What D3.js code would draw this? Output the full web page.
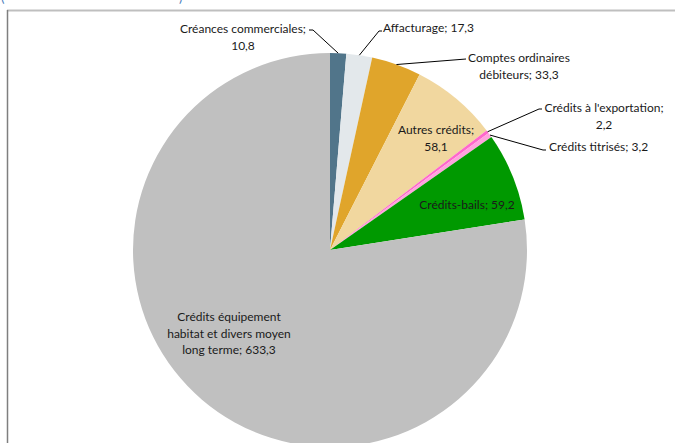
<!DOCTYPE html>
<html>
<head>
<meta charset="utf-8">
<script src="https://d3js.org/d3.v7.min.js"></script>
<style>
  html, body { margin: 0; padding: 0; background: #fff; }
  svg { display: block; }
  text { font-family: "Lato", "Liberation Sans", sans-serif; font-size: 12px; fill: #1a1a1a; }
</style>
</head>
<body>
<div id="chart"></div>
<script>
"use strict";
// Répartition des crédits (pie, clockwise from 12 o'clock)
const categories = [
  "Créances commerciales", "Affacturage", "Comptes ordinaires débiteurs", "Autres crédits",
  "Crédits à l'exportation", "Crédits titrisés", "Crédits-bails",
  "Crédits équipement habitat et divers moyen long terme"
];
const values = [10.8, 17.3, 33.3, 58.1, 2.2, 3.2, 59.2, 633.3];
const valueLabels = ["10,8", "17,3", "33,3", "58,1", "2,2", "3,2", "59,2", "633,3"];
const colors = ["#51758a", "#e3e8eb", "#e0a52b", "#f1d79f", "#ff66cc", "#ffa3dd", "#009900", "#c0c0c0"];

// label layout: text lines, anchor, x, first baseline, optional leader elbow
const LABELS = [
  { lines: ["Créances commerciales;", "10,8"], anchor: "middle", x: 243, y: 33, elbow: [313, 30], tick: -4 },
  { lines: ["Affacturage; 17,3"], anchor: "start", x: 383, y: 32, elbow: [379, 31], tick: 3 },
  { lines: ["Comptes ordinaires", "débiteurs; 33,3"], anchor: "middle", x: 519, y: 62, elbow: [466, 59], tick: 0 },
  { lines: ["Autres crédits;", "58,1"], anchor: "middle", x: 436, y: 134 },
  { lines: ["Crédits à l'exportation;", "2,2"], anchor: "middle", x: 604, y: 112, elbow: [539, 109], tick: 3 },
  { lines: ["Crédits titrisés; 3,2"], anchor: "start", x: 549, y: 151, elbow: [543, 150], tick: 3 },
  { lines: ["Crédits-bails; 59,2"], anchor: "middle", x: 467, y: 209 },
  { lines: ["Crédits équipement", "habitat et divers moyen", "long terme; 633,3"], anchor: "middle", x: 229, y: 321 }
];

const W = 675, H = 443;
const cx = 330, cy = 250, R = 197;

const svg = d3.select("#chart").append("svg").attr("width", W).attr("height", H);

// cut-off caption above the frame
svg.append("text").attr("x", 1).attr("y", 2).style("fill", "#4f81bd").style("font-size", "13px").text("(");
svg.append("text").attr("x", 179).attr("y", 2).style("fill", "#4f81bd").style("font-size", "13px").text(")");

// frame
svg.append("line").attr("x1", 7).attr("x2", W).attr("y1", 10.5).attr("y2", 10.5)
  .attr("stroke", "#bfbfbf").attr("stroke-width", 2);
svg.append("line").attr("x1", 7.5).attr("x2", 7.5).attr("y1", 10).attr("y2", H)
  .attr("stroke", "#7f7f7f").attr("stroke-width", 1.5);

const data = categories.map((c, i) => ({ name: c, value: values[i], label: valueLabels[i], color: colors[i] }));
const pie = d3.pie().sort(null).value((d) => d.value);
const arcs = pie(data);
const arc = d3.arc().innerRadius(0).outerRadius(R);
const edge = d3.arc().innerRadius(R).outerRadius(R);

const g = svg.append("g").attr("transform", `translate(${cx},${cy})`);
g.selectAll("path").data(arcs).join("path")
  .attr("d", arc)
  .attr("fill", (d) => d.data.color);

// leader lines
const lead = svg.append("g");
arcs.forEach((a, i) => {
  const L = LABELS[i];
  if (!L.elbow) return;
  const p = edge.centroid(a);
  const pts = [[cx + p[0], cy + p[1]], L.elbow];
  if (L.tick) pts.push([L.elbow[0] + L.tick, L.elbow[1]]);
  lead.append("path").attr("d", d3.line()(pts))
    .attr("fill", "none").attr("stroke", "#000").attr("stroke-width", 1);
});

// labels
const lab = svg.append("g");
LABELS.forEach((L) => {
  const t = lab.append("text").attr("text-anchor", L.anchor);
  L.lines.forEach((s, j) => {
    t.append("tspan").attr("x", L.x).attr("y", L.y + j * 16.5).text(s);
  });
});
</script>
</body>
</html>
